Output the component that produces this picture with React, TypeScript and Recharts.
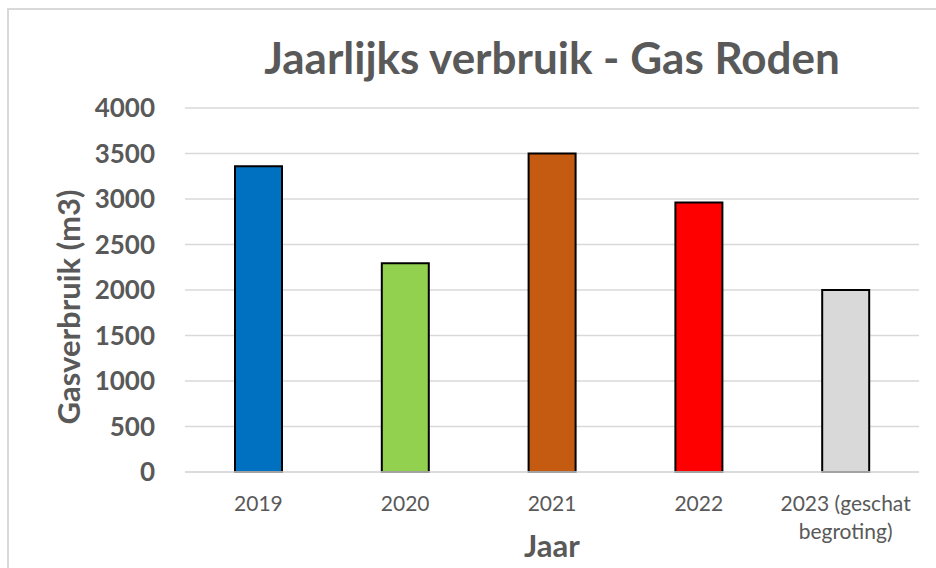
import { Bar, BarChart, CartesianGrid, Cell, Text, XAxis, YAxis } from "recharts";

const years = ["2019", "2020", "2021", "2022", "2023 (geschat begroting)"];
const gasUse = [3360, 2295, 3500, 2962, 2000];
const yTicks = [0, 500, 1000, 1500, 2000, 2500, 3000, 3500, 4000];

const barColors = ["#0070C0", "#92D050", "#C55A11", "#FF0000", "#D9D9D9"];

const chartData = years.map((year, i) => ({ year, value: gasUse[i] }));

const FONT = "Lato, 'Open Sans', sans-serif";
const GREY = "#595959";

function YearTick({ x, y, payload }: any) {
  return (
    <Text
      x={x}
      y={y}
      width={150}
      textAnchor="middle"
      verticalAnchor="start"
      lineHeight={28}
      fontFamily={FONT}
      fontSize={21}
      fill={GREY}
    >
      {payload.value}
    </Text>
  );
}

export default function App() {
  return (
    <div style={{ position: "absolute", left: 0, top: 0, width: 936, height: 568, background: "#fff", overflow: "hidden" }}>
      <div
        style={{
          position: "absolute",
          left: 7,
          top: 8,
          width: 929,
          height: 560,
          borderLeft: "2px solid #d9d9d9",
          borderTop: "2px solid #d9d9d9",
        }}
      />
      <div
        style={{
          position: "absolute",
          left: 185,
          width: 734,
          top: 31,
          textAlign: "center",
          fontFamily: FONT,
          fontWeight: 700,
          fontSize: 44,
          lineHeight: "52px",
          color: GREY,
        }}
      >
        Jaarlijks verbruik - Gas Roden
      </div>
      <div style={{ position: "absolute", left: 0, top: 0 }}>
        <BarChart width={936} height={568} data={chartData} margin={{ top: 108, right: 17, bottom: 6, left: 0 }}>
          <CartesianGrid vertical={false} stroke="#d9d9d9" strokeWidth={1.5} />
          <XAxis
            dataKey="year"
            height={90}
            axisLine={{ stroke: "#d9d9d9", strokeWidth: 1.5 }}
            tickLine={false}
            tickSize={0}
            tickMargin={24}
            interval={0}
            tick={<YearTick />}
            label={{
              content: ({ viewBox }: any) => (
                <text
                  x={viewBox.x + viewBox.width / 2}
                  y={viewBox.y + 85}
                  textAnchor="middle"
                  fontFamily={FONT}
                  fontWeight={700}
                  fontSize={31}
                  fill={GREY}
                >
                  Jaar
                </text>
              ),
            }}
          />
          <YAxis
            width={185}
            domain={[0, 4000]}
            ticks={yTicks}
            axisLine={false}
            tickLine={false}
            tickSize={0}
            tickMargin={30}
            tick={{ fontFamily: FONT, fontWeight: 700, fontSize: 26, fill: GREY }}
            label={{
              content: ({ viewBox }: any) => {
                const cx = viewBox.x + 68;
                const cy = viewBox.y + viewBox.height / 2 + 17;
                return (
                  <text
                    x={cx}
                    y={cy}
                    transform={`rotate(-90, ${cx}, ${cy})`}
                    textAnchor="middle"
                    dominantBaseline="central"
                    fontFamily={FONT}
                    fontWeight={700}
                    fontSize={31}
                    fill={GREY}
                  >
                    Gasverbruik (m3)
                  </text>
                );
              },
            }}
          />
          <Bar dataKey="value" barSize={47} stroke="#000" strokeWidth={2} isAnimationActive={false}>
            {chartData.map((d, i) => (
              <Cell key={d.year} fill={barColors[i]} />
            ))}
          </Bar>
        </BarChart>
      </div>
    </div>
  );
}
